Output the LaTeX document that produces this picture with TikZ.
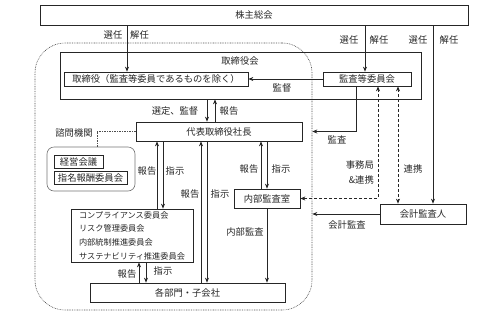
\documentclass[tikz,border=0pt]{standalone}
\usepackage{fontspec}
\newfontfamily\jp{Noto Sans CJK JP}
\usetikzlibrary{arrows.meta,calc}
\begin{document}
\begin{tikzpicture}[x=1pt,y=-1pt,
  box/.style={draw=black!85, line width=0.7pt, inner sep=0pt, font=\jp\fontsize{9.3}{11}\selectfont, text=black!85},
  lbl/.style={font=\jp\fontsize{9.3}{11}\selectfont, text=black!85, inner sep=0pt},
  arr/.style={draw=black!85, line width=0.7pt, -{Stealth[length=5pt,width=4pt]}},
  darr/.style={draw=black!85, line width=0.8pt, dash pattern=on 3pt off 2pt, {Stealth[length=5pt,width=4pt]}-{Stealth[length=5pt,width=4pt]}},
  grp/.style={draw=black!70, line width=0.6pt, dash pattern=on 0.8pt off 0.9pt, rounded corners=30pt, inner sep=0pt}
]
\useasboundingbox (0,0) rectangle (482,325);
% column coordinates
\foreach \n/\x in {k127/127,k365/365,k433/433,k207/207,k215/215,k157/157,k163/163,k201/201,k261/261,k267/267,k139/139,k146/146,k356/356,k378/378,k398/398,k97/97}
  \coordinate (\n) at (\x,0);

% executive group (dotted)
\node[grp, minimum width=277pt, minimum height=267pt] (exec) at (173.5,176.5) {};

% boxes
\node[box, minimum width=428pt, minimum height=20pt] (agm) at (254,15) {株主総会};
\node[box, minimum width=361pt, minimum height=47pt] (bod) at (240.5,75.5) {};
\node[lbl] (bodl) at (240,61) {取締役会};
\node[box, minimum width=184pt, minimum height=14pt] (dir) at (156,79) {取締役（監査等委員であるものを除く）};
\node[box, minimum width=88pt, minimum height=14pt] (ac) at (367,79) {監査等委員会};
\node[box, minimum width=166pt, minimum height=19pt] (ceo) at (219,131.5) {代表取締役社長};
\node[draw=black!55, line width=0.6pt, rounded corners=7pt, minimum width=88pt, minimum height=44pt, inner sep=0pt] (adv) at (91,169) {};
\node[box, minimum width=49pt, minimum height=13pt] (mc) at (78.5,161.5) {経営会議};
\node[box, minimum width=73pt, minimum height=13pt] (nrc) at (90.5,177.5) {指名報酬委員会};
\node[box, minimum width=122pt, minimum height=53pt, align=left, font=\jp\fontsize{8.2}{13.6}\selectfont] (com) at (132,235.5) {コンプライアンス委員会\\リスク管理委員会\\内部統制推進委員会\\サステナビリティ推進委員会};
\node[box, minimum width=66pt, minimum height=19pt] (ia) at (267,198.5) {内部監査室};
\node[box, minimum width=86pt, minimum height=20pt] (ea) at (423,214) {会計監査人};
\node[box, minimum width=195pt, minimum height=19pt] (dept) at (187.5,292.5) {各部門・子会社};

% connectors
\draw[arr] (agm.south -| k127) -- (dir.north -| k127);
\draw[arr] (agm.south -| k365) -- (ac.north -| k365);
\draw[arr] (agm.south -| k433) -- (ea.north -| k433);
\draw[arr] (ac.west) -- (dir.east);
\draw[arr] (bod.south -| k207) -- (ceo.north -| k207);
\draw[arr] (ceo.north -| k215) -- (bod.south -| k215);
\draw[arr] (com.north -| k157) -- (ceo.south -| k157);
\draw[arr] (ceo.south -| k163) -- (com.north -| k163);
\draw[arr] (dept.north -| k201) -- (ceo.south -| k201);
\draw[arr] (ceo.south -| k207) -- (dept.north -| k207);
\draw[arr] (ia.north -| k261) -- (ceo.south -| k261);
\draw[arr] (ceo.south -| k267) -- (ia.north -| k267);
\draw[arr] (ia.south -| k267) -- (dept.north -| k267);
\draw[arr] (dept.north -| k139) -- (com.south -| k139);
\draw[arr] (com.south -| k146) -- (dept.north -| k146);
\draw[arr] (ac.south -| k356) |- (exec.east |- ceo.center);
\draw[arr] (ea.west) -- (exec.east |- ea.west);
\draw[darr] (ac.south -| k378) |- (ia.east);
\draw[darr] (ac.south -| k398) -- (ea.north -| k398);
\draw[draw=black!70, line width=0.6pt, dash pattern=on 1.5pt off 1pt] (ceo.west) -| (adv.north -| k97);

% labels
\node[lbl] (t1) at (113,35) {選任};
\node[lbl] (t2) at (139.5,35) {解任};
\node[lbl] (t3) at (349,40) {選任};
\node[lbl] (t4) at (379,40) {解任};
\node[lbl] (t5) at (418,40) {選任};
\node[lbl] (t6) at (449,40) {解任};
\node[lbl] (t7) at (282,88) {監督};
\node[lbl] (t8) at (175,111) {選定、監督};
\node[lbl] (t9) at (229,111) {報告};
\node[lbl] (t10) at (74,133) {諮問機関};
\node[lbl] (t11) at (147,171) {報告};
\node[lbl] (t12) at (175,171) {指示};
\node[lbl] (t13) at (190,194) {報告};
\node[lbl] (t14) at (220,194) {指示};
\node[lbl] (t15) at (249,169) {報告};
\node[lbl] (t16) at (281,169) {指示};
\node[lbl] (t17) at (337,140) {監査};
\node[lbl, anchor=east] (t18) at (374,165) {事務局};
\node[lbl, anchor=east] (t19) at (374,180) {\&連携};
\node[lbl] (t20) at (413,169) {連携};
\node[lbl] (t21) at (245,232) {内部監査};
\node[lbl] (t22) at (347,225) {会計監査};
\node[lbl] (t23) at (127,274) {報告};
\node[lbl] (t24) at (163,271) {指示};
\end{tikzpicture}
\end{document}
